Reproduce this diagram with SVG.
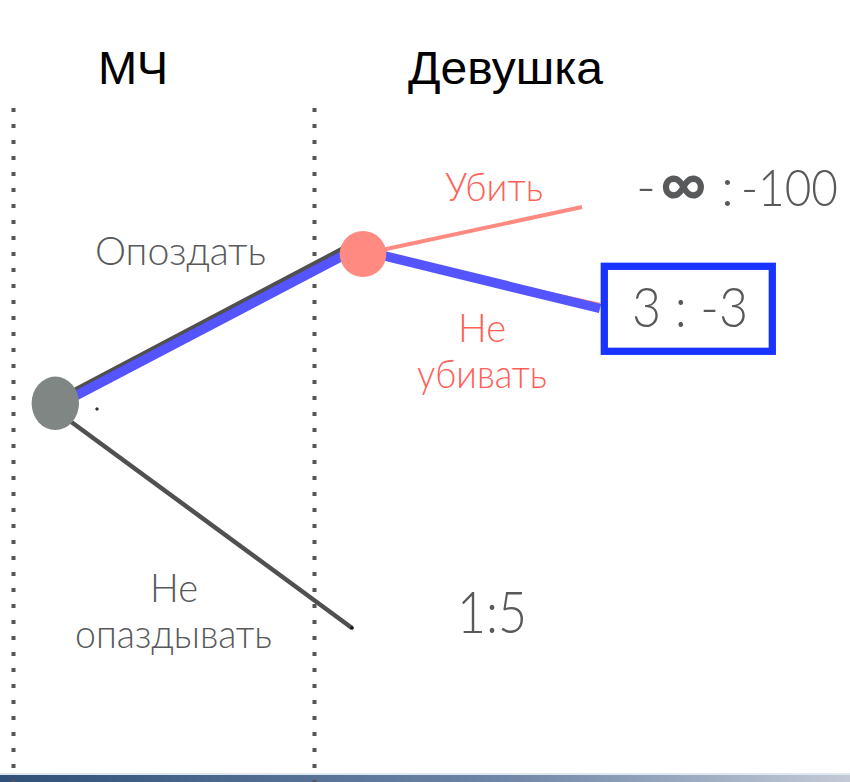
<svg xmlns="http://www.w3.org/2000/svg" width="850" height="782" viewBox="0 0 850 782">
<defs>
<style>
.hdr{font-family:"Liberation Sans",Arial,sans-serif;font-size:47px;fill:#000}
.lbl{font-family:Lato,"Open Sans","Noto Sans",sans-serif;font-weight:300;fill:#58595b}
.pk{font-family:Lato,"Open Sans","Noto Sans",sans-serif;font-weight:300;fill:#ff6158}
.dots{stroke:#555;stroke-width:4;stroke-dasharray:4 12;fill:none}
</style>
<linearGradient id="bar" x1="0" y1="0" x2="1" y2="0">
<stop offset="0" stop-color="#2f5078"/>
<stop offset="0.6" stop-color="#6f87a8"/>
<stop offset="1" stop-color="#c3cad6"/>
</linearGradient>
</defs>
<rect width="850" height="782" fill="#fff"/>
<rect x="0" y="775" width="850" height="7" fill="url(#bar)"/>
<rect x="0" y="773" width="850" height="2" fill="#dfe7f0"/>
<g id="lanes">
<line class="dots" x1="13.5" y1="108" x2="13.5" y2="782"/>
<line class="dots" x1="314.5" y1="108" x2="314.5" y2="782"/>
</g>
<g id="headers">
<text class="hdr" x="98" y="84" textLength="70" lengthAdjust="spacingAndGlyphs">МЧ</text>
<text class="hdr" x="408" y="84" textLength="195" lengthAdjust="spacingAndGlyphs">Девушка</text>
</g>
<g id="connectors">
<line x1="60" y1="398" x2="350" y2="245" stroke="#505050" stroke-width="5"/>
<line x1="60" y1="404" x2="350" y2="252" stroke="#5555ff" stroke-width="9.5"/>
<line x1="55" y1="410" x2="352" y2="628" stroke="#505050" stroke-width="4.5"/>
<circle cx="352" cy="628" r="1.8" fill="#111"/>
<line x1="363" y1="254" x2="582" y2="207" stroke="#ff8a82" stroke-width="4"/>
<line x1="363" y1="252" x2="600" y2="304" stroke="#ff8a82" stroke-width="2.5"/>
<line x1="363" y1="250.6" x2="600" y2="308.5" stroke="#5555ff" stroke-width="9.5"/>
<rect x="95.5" y="407.5" width="3" height="3" fill="#333" transform="rotate(45 97 409)"/>
</g>
<g id="node-mch">
<ellipse cx="55.3" cy="403.3" rx="23.7" ry="26.7" fill="#7f8683"/>
</g>
<g id="node-girl">
<ellipse cx="363" cy="254" rx="23.3" ry="23" fill="#ff8a82"/>
</g>
<g id="outcome-kill">
<text class="lbl" y="206" font-size="54"><tspan x="636">-</tspan><tspan x="660" font-weight="bold" font-size="64">∞</tspan><tspan x="721">:</tspan><tspan x="741" font-size="52" textLength="97" lengthAdjust="spacingAndGlyphs">-100</tspan></text>
</g>
<g id="outcome-nokill">
<rect x="604.3" y="266.3" width="168" height="85" fill="#fff" stroke="#1a34ff" stroke-width="7.3"/>
<text class="lbl" x="632" y="327" font-size="56" textLength="116" lengthAdjust="spacingAndGlyphs">3 : -3</text>
</g>
<g id="outcome-ontime">
<text class="lbl" x="457" y="633" font-size="58" textLength="70" lengthAdjust="spacingAndGlyphs">1:5</text>
</g>
<g id="labels">
<text class="lbl" x="95" y="265" font-size="39" textLength="171" lengthAdjust="spacingAndGlyphs">Опоздать</text>
<text class="pk" x="445" y="201" font-size="39" textLength="98" lengthAdjust="spacingAndGlyphs">Убить</text>
<text class="pk" x="458" y="342" font-size="40" textLength="48" lengthAdjust="spacingAndGlyphs">Не</text>
<text class="pk" x="417" y="388" font-size="40" textLength="130" lengthAdjust="spacingAndGlyphs">убивать</text>
<text class="lbl" x="150" y="602" font-size="40" textLength="48" lengthAdjust="spacingAndGlyphs">Не</text>
<text class="lbl" x="75" y="648" font-size="40" textLength="197" lengthAdjust="spacingAndGlyphs">опаздывать</text>
</g>
</svg>
